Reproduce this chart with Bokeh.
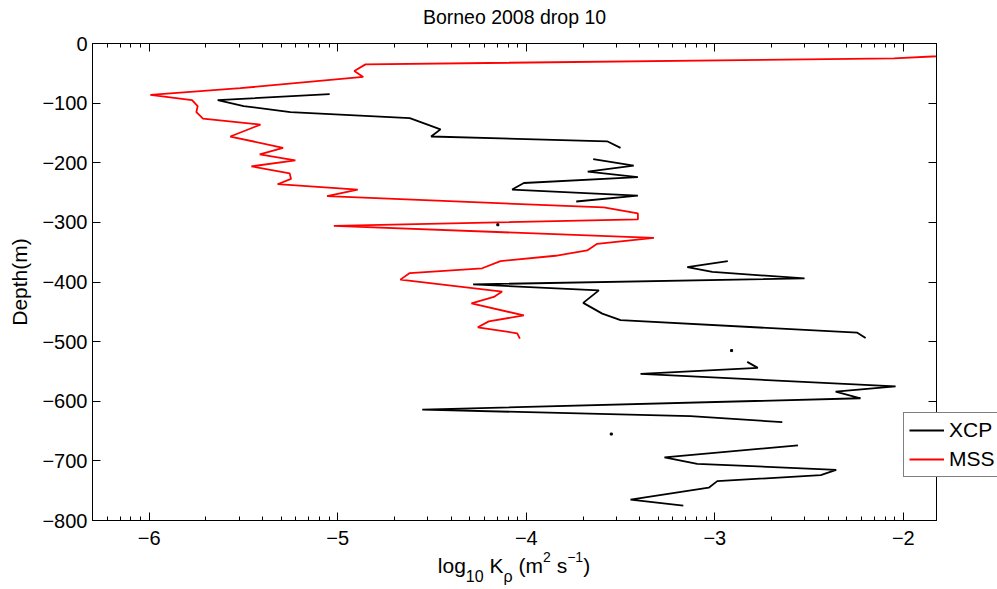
import math
from bokeh.plotting import figure
from bokeh.models import (Range1d, FixedTicker, LinearAxis, Legend, LegendItem,
                          Label, ColumnDataSource, GridBox, Column, CustomJSTickFormatter)
from bokeh.embed import file_html
from bokeh.resources import INLINE

# ---------------- data ----------------
title_text = "Borneo 2008 drop 10"
y_label_text = "Depth(m)"
x_ticks = [-6, -5, -4, -3, -2]
y_ticks = [0, -100, -200, -300, -400, -500, -600, -700, -800]
series_names = ["XCP", "MSS"]

# MSS profile: log10 K_rho and depth (m)
mss_logk = [-1.42, -2.05, -4.853, -4.912, -4.865, -5.517, -5.994, -5.773, -5.743,
            -5.750, -5.715, -5.410, -5.570, -5.290, -5.414, -5.225, -5.458, -5.255,
            -5.248, -5.319, -4.894, -5.057, -3.589, -3.408, -3.408, -5.021, -3.323,
            -3.624, -3.677, -3.845, -4.137, -4.234, -4.618, -4.668, -4.128, -4.172,
            -4.291, -4.013, -4.199, -4.257, -4.048, -4.034]
mss_depth = [-15, -25, -35, -46, -56, -75, -86, -95, -105,
             -115, -126, -136, -156, -175, -186, -196, -206, -218,
             -227, -236, -245, -256, -275, -285, -295, -306, -326,
             -336, -347, -356, -365, -377, -385, -396, -416, -425,
             -436, -456, -466, -476, -486, -495]

nan = float("nan")
# XCP profile (NaN = gap in the profile)
xcp_logk = [-5.043, -5.637, -5.499, -5.251, -4.618, -4.455, -4.505, -3.571, -3.500, nan,
            -3.645, -3.430, -3.674, -3.408, -4.013, -4.075, -3.408, -3.735, nan,
            -4.151, nan,
            -2.931, -3.146, -3.013, -2.524, -4.282, -3.615, -3.698, -3.597, -3.500,
            -2.244, -2.200, nan,
            -2.911, nan,
            -2.828, -2.772, -3.394, -2.041, -2.359, -2.227, -4.552, -3.129, -2.642, nan,
            -3.549, nan,
            -2.559, -3.267, -3.093, -2.356, -2.438, -2.987, -3.032, -3.447, -3.167]
xcp_depth = [-85, -95, -105, -115, -125, -144, -156, -164, -175, nan,
             -194, -205, -215, -224, -234, -245, -255, -265, nan,
             -304, nan,
             -365, -375, -383, -394, -404, -414, -435, -453, -464,
             -485, -494, nan,
             -515, nan,
             -534, -544, -554, -575, -584, -595, -614, -625, -635, nan,
             -655, nan,
             -674, -694, -705, -715, -724, -734, -745, -765, -775]

# ---------------- main figure ----------------
FONT = "Liberation Sans"
W, H = 997, 589
p = figure(width=W, height=H, output_backend="svg", toolbar_location=None,
           x_range=Range1d(-6.301, -1.824), y_range=Range1d(-800, 0),
           x_axis_type=None, y_axis_type=None,
           min_border_left=92, min_border_right=61, min_border_top=43, min_border_bottom=69)
p.title.text = ""
p.background_fill_color = "white"
p.border_fill_color = "white"
p.outline_line_color = "black"
p.outline_line_width = 1

minor = [n + math.log10(k) for n in range(-7, -1) for k in range(2, 10)]
xtick = FixedTicker(ticks=x_ticks, minor_ticks=minor)
ytick = FixedTicker(ticks=y_ticks, minor_ticks=[])
xlabels = {t: ("\u2212" + str(abs(t)) if t < 0 else str(t)) for t in x_ticks}
ylabels = {t: ("\u2212" + str(abs(t)) if t < 0 else str(t)) for t in y_ticks}
blank = CustomJSTickFormatter(code="return ''")


def style(ax):
    ax.axis_line_color = "black"
    ax.axis_line_width = 1
    ax.major_tick_line_color = "black"
    ax.minor_tick_line_color = "black"
    ax.major_tick_in = 8
    ax.major_tick_out = 0
    ax.minor_tick_in = 4
    ax.minor_tick_out = 0
    ax.major_label_text_font = FONT
    ax.major_label_text_font_size = "20px"
    ax.major_label_text_color = "black"


xb = LinearAxis(ticker=xtick, major_label_overrides=xlabels)
style(xb)
xb.major_label_standoff = 10
p.add_layout(xb, "below")

xt = LinearAxis(ticker=xtick, formatter=blank)
style(xt)
xt.major_label_standoff = 0
p.add_layout(xt, "above")

yl = LinearAxis(ticker=ytick, major_label_overrides=ylabels)
style(yl)
yl.major_label_standoff = 5
yl.axis_label = y_label_text
yl.axis_label_text_font = FONT
yl.axis_label_text_font_style = "normal"
yl.axis_label_text_font_size = "21px"
yl.axis_label_text_color = "black"
yl.axis_label_standoff = 8
p.add_layout(yl, "left")

yr = LinearAxis(ticker=ytick, formatter=blank)
style(yr)
yr.major_label_standoff = 0
p.add_layout(yr, "right")

xcp_src = ColumnDataSource(dict(x=xcp_logk, y=xcp_depth))
mss_src = ColumnDataSource(dict(x=mss_logk, y=mss_depth))
p.line("x", "y", source=xcp_src, line_color="black", line_width=1.8)
p.line("x", "y", source=mss_src, line_color="#ff0000", line_width=1.8)

# isolated XCP samples (no neighbours) show as dots
iso_x, iso_y = [], []
for i, v in enumerate(xcp_logk):
    if math.isnan(v):
        continue
    prev_nan = i == 0 or math.isnan(xcp_logk[i - 1])
    next_nan = i == len(xcp_logk) - 1 or math.isnan(xcp_logk[i + 1])
    if prev_nan and next_nan:
        iso_x.append(v)
        iso_y.append(xcp_depth[i])
p.scatter(iso_x, iso_y, marker="square", size=2, color="black")

# ---------------- transparent overlay (texts / legend that overflow the axes box) ----------------
ov = figure(width=W, height=H, output_backend="svg", toolbar_location=None,
            x_range=Range1d(0, W), y_range=Range1d(0, H),
            x_axis_type=None, y_axis_type=None,
            min_border=0, min_border_left=0, min_border_right=0,
            min_border_top=0, min_border_bottom=0)
ov.title = None
ov.background_fill_alpha = 0
ov.border_fill_alpha = 0
ov.outline_line_color = None

# legend keys (styled like the data lines; their single NaN sample draws nothing)
k_xcp = ov.line(x=[nan], y=[nan], line_color="black", line_width=1.8)
k_mss = ov.line(x=[nan], y=[nan], line_color="#ff0000", line_width=1.8)
legend = Legend(items=[LegendItem(label=series_names[0], renderers=[k_xcp]),
                       LegendItem(label=series_names[1], renderers=[k_mss])],
                location=(903, H - 477))
legend.label_text_font = FONT
legend.label_text_font_size = "21px"
legend.label_text_color = "black"
legend.border_line_color = "black"
legend.border_line_width = 1
legend.background_fill_color = "white"
legend.background_fill_alpha = 1
legend.padding = 5
legend.spacing = 5
legend.margin = 0
legend.glyph_width = 35
legend.glyph_height = 20
legend.label_height = 20
legend.label_standoff = 5
ov.add_layout(legend, "center")

SHIFT = 8.5  # empirical baseline correction

# title
ov.add_layout(Label(x=514, y=H - 25 + SHIFT, x_units="screen", y_units="screen",
                    text=title_text, text_font=FONT, text_font_size="19.5px",
                    text_color="black", text_baseline="alphabetic", text_align="center"))

# x axis label: log10 K_rho (m^2 s^-1) with sub/superscripts
M, S, U = 21, 16, 14
base_main, base_sub, base_sup = H - 573.5 + SHIFT, H - 584 + SHIFT, H - 565 + SHIFT
pieces = [("log", M, base_main, 1.334), ("10", S, base_sub, 1.112),
          (" ", M, base_main, 0.278), ("K", M, base_main, 0.667),
          ("\u03c1", S, base_sub, 0.578), (" ", M, base_main, 0.278),
          ("(m", M, base_main, 1.166), ("2", U, base_sup, 0.556),
          (" ", M, base_main, 0.278), ("s", M, base_main, 0.5),
          ("\u22121", U, base_sup, 1.14), (")", M, base_main, 0.333)]
total = sum(fs * w for _, fs, _, w in pieces)
cx = 513.5 - total / 2
for txt, fs, sy, w in pieces:
    if txt.strip():
        ov.add_layout(Label(x=cx, y=sy, x_units="screen", y_units="screen", text=txt,
                            text_font=FONT, text_font_size=f"{fs}px", text_color="black",
                            text_baseline="alphabetic", text_align="left"))
    cx += fs * w

# overlay wrapped in a Column so that its frame is not aligned with the main frame
grid = GridBox(children=[(p, 0, 0), (Column(children=[ov]), 0, 0)])
open("out.html", "w").write(file_html(grid, INLINE))
